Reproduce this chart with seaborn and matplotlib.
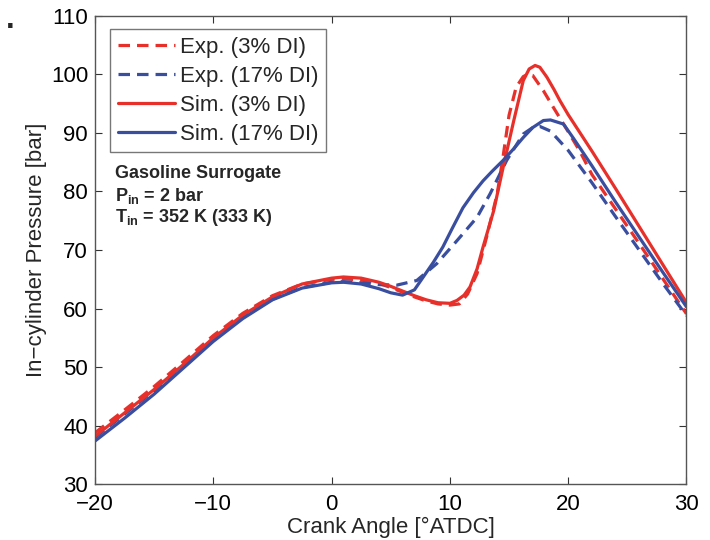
import matplotlib
matplotlib.use("Agg")
import matplotlib.pyplot as plt
import seaborn as sns
import pandas as pd

# ---- data ----
x_exp3 = [-20, -17.5, -15, -12.5, -10, -7.5, -5, -2.5, 0, 1, 2.5, 4, 5, 6, 7, 8, 9, 10, 10.8,
          11.5, 12.3, 13.1, 14.0, 14.5, 15.0, 15.6, 16.2, 16.6, 17.0, 17.9, 18.7, 20, 21, 22, 24, 26, 28, 30]
y_exp3 = [38.8, 42.7, 46.7, 51.0, 55.4, 59.2, 62.2, 64.2, 65.0, 65.1, 64.9, 64.3, 63.6, 62.8, 62.0, 61.3, 60.8, 60.6, 60.8,
          62.5, 66.0, 72.2, 79.6, 86.0, 93.0, 97.8, 99.6, 100.0, 99.8, 97.2, 94.5, 90.2, 86.8, 82.9, 77.0, 71.1, 65.1, 59.1]

x_exp17 = [-20, -17.5, -15, -12.5, -10, -7.5, -5, -2.5, 0, 1, 2.5, 4, 5.5, 7.2, 8.9, 10.6, 12.3, 13.4,
           14.8, 16.2, 17.0, 17.6, 18.5, 20, 22, 24, 26, 28, 30]
y_exp17 = [38.0, 42.0, 46.0, 50.3, 54.8, 58.6, 61.6, 63.6, 64.5, 64.6, 64.4, 64.1, 64.0, 64.8, 67.7, 71.6, 75.6, 79.6,
           85.3, 89.8, 90.9, 91.1, 90.3, 87.0, 81.5, 75.7, 70.0, 64.3, 58.8]

x_sim3 = [-20, -17.5, -15, -12.5, -10, -7.5, -5, -2.5, 0, 1, 2.5, 4, 5, 6, 7, 8, 9, 10, 10.6, 11.2, 11.7,
          12.3, 12.8, 13.7, 14.5, 15.4, 16.2, 16.7, 17.2, 17.6, 18.2, 18.8, 19.3, 20, 22, 24, 26, 28, 30]
y_sim3 = [38.2, 42.2, 46.2, 50.5, 55.0, 58.9, 62.0, 64.2, 65.2, 65.4, 65.2, 64.5, 63.8, 63.0, 62.2, 61.5, 61.0, 60.9, 61.4, 62.3, 63.7,
          66.8, 70.5, 76.7, 84.1, 92.1, 98.9, 100.9, 101.5, 101.2, 99.5, 97.4, 95.5, 93.1, 86.9, 80.5, 74.0, 67.5, 61.0]

x_sim17 = [-20, -17.5, -15, -12.5, -10, -7.5, -5, -2.5, 0, 1, 2.5, 4, 5, 6, 7, 7.75, 8.6, 9.4, 10.2, 11.1,
           12.0, 12.8, 13.6, 14.5, 15.4, 16.2, 17.0, 17.9, 18.5, 19.6, 20.4, 22, 24, 26, 28, 30]
y_sim17 = [37.4, 41.3, 45.4, 49.9, 54.4, 58.3, 61.5, 63.5, 64.4, 64.5, 64.2, 63.4, 62.7, 62.3, 63.2, 65.4, 67.9, 70.5, 73.7, 77.2,
           79.8, 81.8, 83.5, 85.3, 87.3, 89.2, 90.9, 92.1, 92.2, 91.5, 89.2, 84.4, 78.2, 72.2, 66.2, 60.3]

labels = ["Exp. (3% DI)", "Exp. (17% DI)", "Sim. (3% DI)", "Sim. (17% DI)"]
x_ticks = [-20, -10, 0, 10, 20, 30]
y_ticks = [30, 40, 50, 60, 70, 80, 90, 100, 110]

RED = "#e8302a"
BLUE = "#3a4ea0"

sns.set_style("ticks")
plt.rcParams["font.family"] = ["Liberation Sans", "DejaVu Sans"]
plt.rcParams["mathtext.fontset"] = "custom"
plt.rcParams["mathtext.rm"] = "Liberation Sans"
plt.rcParams["mathtext.bf"] = "Liberation Sans:bold"

fig = plt.figure(figsize=(7.1, 5.4), dpi=100)
ax = fig.add_axes([0.1338, 0.103, 0.8331, 0.868])

dash = (0, (3.6, 2.2))
series = [
    (x_exp3, y_exp3, RED, dash, labels[0]),
    (x_exp17, y_exp17, BLUE, dash, labels[1]),
    (x_sim3, y_sim3, RED, "-", labels[2]),
    (x_sim17, y_sim17, BLUE, "-", labels[3]),
]
for xs, ys, c, ls, lab in series:
    df = pd.DataFrame({"x": xs, "y": ys})
    sns.lineplot(data=df, x="x", y="y", ax=ax, color=c, linestyle=ls, linewidth=2.3,
                 label=lab, sort=False, estimator=None)

ax.set_xlim(-20, 30)
ax.set_ylim(30, 110)
ax.set_xticks(x_ticks)
ax.set_yticks(y_ticks)
ax.set_xticklabels([str(t).replace("-", "\u2212") for t in x_ticks])
ax.set_yticklabels([str(t) for t in y_ticks])
ax.tick_params(direction="in", length=5, width=0.8, colors="#333333", labelcolor="black",
               labelsize=16, top=True, right=True)
ax.tick_params(axis="x", pad=7)
ax.tick_params(axis="y", pad=5)
for s in ax.spines.values():
    s.set_color("#555555")
    s.set_linewidth(1.0)

ax.set_xlabel("Crank Angle [°ATDC]", fontsize=16, labelpad=1)
ax.set_ylabel("In\u2212cylinder Pressure [bar]", fontsize=16, labelpad=3)

leg = ax.legend(loc="upper left", bbox_to_anchor=(0.025, 0.972), fontsize=16, frameon=True,
                fancybox=False, edgecolor="#555555", handlelength=2.6, handletextpad=0.2,
                labelspacing=0.36, borderpad=0.35, borderaxespad=0)
leg.get_frame().set_linewidth(1.0)

ax.text(0.034, 0.663, "Gasoline Surrogate", transform=ax.transAxes, fontsize=13, fontweight="bold",
        va="center")
ax.text(0.034, 0.616, r"$\mathbf{P_{in}}$ = 2 bar", transform=ax.transAxes, fontsize=13,
        fontweight="bold", va="center")
ax.text(0.034, 0.569, r"$\mathbf{T_{in}}$ = 352 K (333 K)", transform=ax.transAxes, fontsize=13,
        fontweight="bold", va="center")

fig.text(0.008, 0.948, ".", fontsize=22, fontweight="bold")

fig.savefig("out.png", dpi=100)
